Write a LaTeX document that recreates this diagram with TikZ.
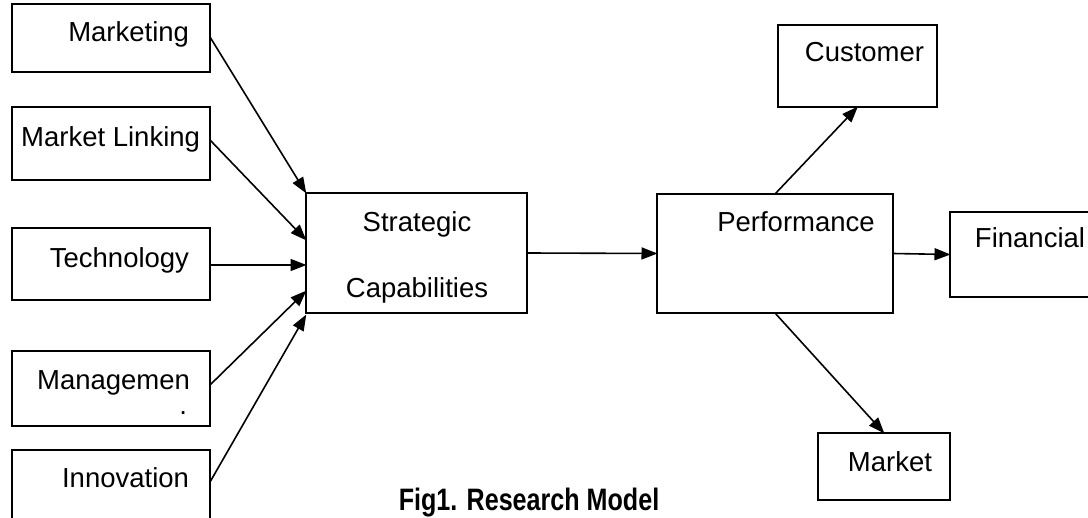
\documentclass[tikz,border=0pt]{standalone}
\usepackage{fontspec}
\setmainfont{Liberation Sans}
\usetikzlibrary{arrows.meta,calc}
\tikzset{
  box/.style={draw=black, line width=1.6pt, rectangle, inner sep=0pt, outer sep=0pt},
  txt/.style={inner sep=0pt, outer sep=0pt, font=\fontsize{27.5}{30}\selectfont},
  conn/.style={line width=1.6pt, -{Triangle[length=16pt,width=12pt]}, shorten >=-0.5pt}
}
\begin{document}
\begin{tikzpicture}[x=1pt,y=-1pt]
\useasboundingbox (0,0) rectangle (1088,518);
\clip (0,0) rectangle (1088,518);
% boxes
\node[box, minimum width=198pt, minimum height=68pt] (mkt) at (111,38) {};
\node[box, minimum width=198pt, minimum height=73pt] (link) at (111,143.5) {};
\node[box, minimum width=198pt, minimum height=72pt] (tech) at (111,264) {};
\node[box, minimum width=198pt, minimum height=75pt] (mgmt) at (111,388.5) {};
\node[box, minimum width=198pt, minimum height=110pt] (inno) at (111,505) {};
\node[box, minimum width=221pt, minimum height=120pt] (strat) at (416.5,253) {};
\node[box, minimum width=236pt, minimum height=119pt] (perf) at (775,253.5) {};
\node[box, minimum width=159pt, minimum height=82pt] (cust) at (857.5,66) {};
\node[box, minimum width=190pt, minimum height=85pt] (fin) at (1045,254.5) {};
\node[box, minimum width=132pt, minimum height=67pt] (mark) at (884,466.5) {};
% texts
\node[txt, anchor=base east] (tmkt) at (189,42) {Marketing};
\node[txt, anchor=base east] (tlink) at (200,147) {Market Linking};
\node[txt, anchor=base east] (ttech) at (189,268) {Technology};
\node[txt, anchor=base east] (tmgmt) at (190,390) {Managemen};
\node[txt, anchor=base east] (tdot) at (187,415) {.};
\node[txt, anchor=base east] (tinno) at (189,488) {Innovation};
\node[txt, anchor=base] (tstrat1) at (417,232) {Strategic};
\node[txt, anchor=base] (tstrat2) at (417,298) {Capabilities};
\node[txt, anchor=base] (tperf) at (796,232) {Performance};
\node[txt, anchor=base] (tcust) at (864.5,62) {Customer};
\node[txt, anchor=base] (tfin) at (1030,248) {Financial};
\node[txt, anchor=base] (tmark) at (890,472) {Market};
\node[inner sep=0pt, anchor=base] (cap) at (529,511) {\scalebox{0.81}[1]{\fontsize{31}{34}\selectfont\bfseries Fig1. Research Model}};
% connectors
\draw[conn] ($(mkt.north east)+(0,33)$) -- (strat.north west);
\draw[conn] ($(link.north east)+(0,33)$) -- ($(strat.north west)+(0,47)$);
\draw[conn] ($(tech.north east)+(0,37)$) -- ($(strat.north west)+(0,72)$);
\draw[conn] ($(mgmt.north east)+(0,34)$) -- ($(strat.north west)+(0,98)$);
\draw[conn] ($(inno.north east)+(0,32)$) -- ($(strat.north west)+(0,122)$);
\draw[conn] (strat.east) -- (perf.west);
\draw[conn] (perf.north) -- (cust.south);
\draw[conn] (perf.east) -- (fin.west);
\draw[conn] (perf.south) -- (mark.north);
\end{tikzpicture}
\end{document}
